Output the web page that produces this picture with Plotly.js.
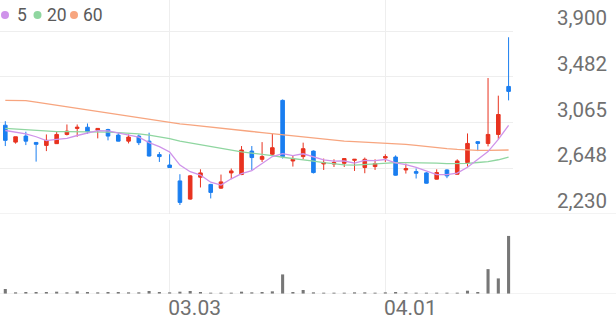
<!DOCTYPE html>
<html><head><meta charset="utf-8">
<script src="https://cdn.plot.ly/plotly-3.0.1.min.js"></script>
<style>html,body{margin:0;padding:0;background:#fff}#chart{width:616px;height:321px}</style>
</head><body><div id="chart"></div>
<script>
// trading-day index (0..49)
const dayIndex = Array.from({length: 50}, (_, i) => i);
const tickIdx = [16, 37];
const tickLabels = ['03.03', '04.01'];
const priceTicks = [2230, 2648, 3065, 3482, 3900];
const priceTickLabels = ['2,230', '2,648', '3,065', '3,482', '3,900'];
const legendNames = ['5', '20', '60'];

const openP  = [3040,2886,2941,2883,2856,2872,2956,3011,3022,2995,3001,2950,2895,2941,2895,2772,2677,2532,2366,2566,2500,2466,2605,2590,2804,2729,2775,3267,2714,2754,2804,2687,2686,2693,2720,2654,2663,2741,2750,2632,2617,2605,2548,2632,2593,2699,2890,2874,2956,3394];
const highP  = [3077,2935,2981,2885,2956,2986,3047,3047,3056,3013,3008,2972,2956,2956,2972,2795,2775,2593,2585,2638,2505,2590,2645,2850,2850,2886,2962,3275,2765,2881,2810,2736,2729,2740,2732,2745,2729,2775,2765,2690,2645,2612,2638,2638,2729,2965,2895,3471,3310,3843];
const lowP   = [2850,2872,2859,2708,2804,2870,2947,2935,2962,2920,2902,2893,2874,2859,2755,2705,2650,2312,2360,2472,2372,2460,2548,2585,2632,2705,2770,2736,2663,2729,2600,2632,2659,2659,2623,2602,2632,2705,2580,2599,2554,2508,2545,2557,2590,2663,2804,2847,2911,3267];
const closeP = [2902,2935,2895,2866,2902,2956,2986,3022,2981,3011,2941,2895,2932,2881,2759,2754,2654,2336,2578,2605,2427,2523,2623,2814,2745,2754,2835,2754,2729,2826,2608,2699,2699,2736,2729,2729,2690,2754,2584,2645,2602,2511,2608,2578,2714,2874,2874,2956,3138,3349];
const volume = [15,5,6,6,6,7,5,8,6,5,6,6,5,5,9,6,5,7,9,6,4,4,4,7,5,6,8,59,6,12,5,4,4,4,5,5,4,5,6,5,4,4,4,4,4,10,6,75,47,175].map(v => v * 1000);

// first 4 MA5 values (need closes before the window)
const ma5Head = [2992, 2977, 2962, 2935];
const ma20 = [3011,3005,2998,2992,2987,2982,2981,2981,2981,2980,2978,2973,2968,2962,2950,2935,2917,2895,2878,2865,2848,2830,2810,2797,2785,2775,2762,2748,2738,2725,2712,2699,2688,2678,2676,2682,2690,2699,2699,2699,2699,2698,2694,2690,2690,2692,2700,2708,2725,2750];
const ma60 = [3267,3267,3265,3250,3236,3222,3207,3193,3178,3164,3150,3135,3120,3106,3092,3077,3062,3052,3043,3034,3024,3014,3004,2993,2983,2973,2963,2953,2943,2933,2923,2913,2904,2895,2891,2886,2884,2881,2874,2866,2857,2846,2834,2826,2819,2813,2811,2811,2812,2814];

const ma5 = closeP.map((c, i) => {
  if (i < 4) return ma5Head[i];
  let s = 0; for (let k = i - 4; k <= i; k++) s += closeP[k];
  return s / 5;
});

const RED = '#e8321f', BLUE = '#1a7ef0';
const C5 = '#cf93ea', C20 = '#8fd6a0', C60 = '#f7a57f';
const legendColors = [C5, C20, C60];

const traces = [
  {type:'scatter', mode:'lines', x:dayIndex, y:ma60, line:{color:C60, width:1.3}, xaxis:'x', yaxis:'y', hoverinfo:'skip'},
  {type:'scatter', mode:'lines', x:dayIndex, y:ma20, line:{color:C20, width:1.3}, xaxis:'x', yaxis:'y', hoverinfo:'skip'},
  {type:'scatter', mode:'lines', x:dayIndex, y:ma5, line:{color:C5, width:1.3}, xaxis:'x', yaxis:'y', hoverinfo:'skip'},
  {type:'candlestick', x:dayIndex, open:openP, high:highP, low:lowP, close:closeP, xaxis:'x', yaxis:'y',
   increasing:{line:{color:RED, width:1}, fillcolor:RED},
   decreasing:{line:{color:BLUE, width:1}, fillcolor:BLUE}, whiskerwidth:0},
  {type:'bar', x:dayIndex, y:volume, width:0.3, marker:{color:'#777777', line:{width:0}}, xaxis:'x', yaxis:'y2', hoverinfo:'skip'}
];

// legend pixel layout (plot area: 513 x 294, origin top-left of page)
const PW = 513, PH = 294;
const px = v => v / PW, py = v => (PH - v) / PH;
const dotX = [5, 37.5, 74], textX = [15.5, 46, 82];
const shapes = [
  {type:'line', xref:'paper', x0:0, x1:616/PW, yref:'y', y0:priceTicks[0], y1:priceTicks[0], line:{color:'#e6e6e6', width:1}},
  {type:'line', xref:'paper', x0:0, x1:616/PW, yref:'y2', y0:0, y1:0, line:{color:'#e6e6e6', width:1}}
];
const annotations = [];
legendNames.forEach((n, k) => {
  shapes.push({type:'circle', xref:'paper', yref:'paper', x0:px(dotX[k]-4), x1:px(dotX[k]+4), y0:py(19), y1:py(11),
    fillcolor:legendColors[k], line:{width:0}});
  annotations.push({xref:'paper', yref:'paper', x:px(textX[k]), y:py(15), xanchor:'left', yanchor:'middle',
    showarrow:false, text:n, font:{size:17.5, color:'#5a5a5a', family:'Roboto, sans-serif'}, borderpad:0});
});

const layout = {
  width:616, height:321,
  margin:{l:0, r:103, t:0, b:27},
  paper_bgcolor:'#fff', plot_bgcolor:'#fff',
  showlegend:false, boxgap:0.5,
  font:{family:'Roboto, sans-serif', color:'#777'},
  xaxis:{domain:[0,1], anchor:'y2', range:[-0.516, 49.43], rangeslider:{visible:false},
    tickvals:tickIdx, ticktext:tickLabels, ticks:'', showgrid:true, gridcolor:'#eeeeee', gridwidth:1,
    zeroline:false, showline:false, ticklabelshift:25, ticklabelstandoff:-1,
    tickfont:{size:21, color:'#707070'}},
  yaxis:{domain:[(PH-214)/PH, 1], anchor:'x', side:'right', range:[2230, 4183],
    tickvals:priceTicks, ticktext:priceTickLabels, ticks:'', showgrid:true, gridcolor:'#eeeeee',
    zeroline:false, showline:false, ticklabelshift:-13, ticklabelstandoff:43,
    tickfont:{size:20.5, color:'#707070'}},
  yaxis2:{domain:[0, (PH-220)/PH], anchor:'x', range:[0, 223000], showgrid:false, zeroline:false,
    showticklabels:false, ticks:''},
  shapes: shapes,
  annotations: annotations
};

Plotly.newPlot('chart', traces, layout, {staticPlot:true, displayModeBar:false});
</script>
</body></html>
